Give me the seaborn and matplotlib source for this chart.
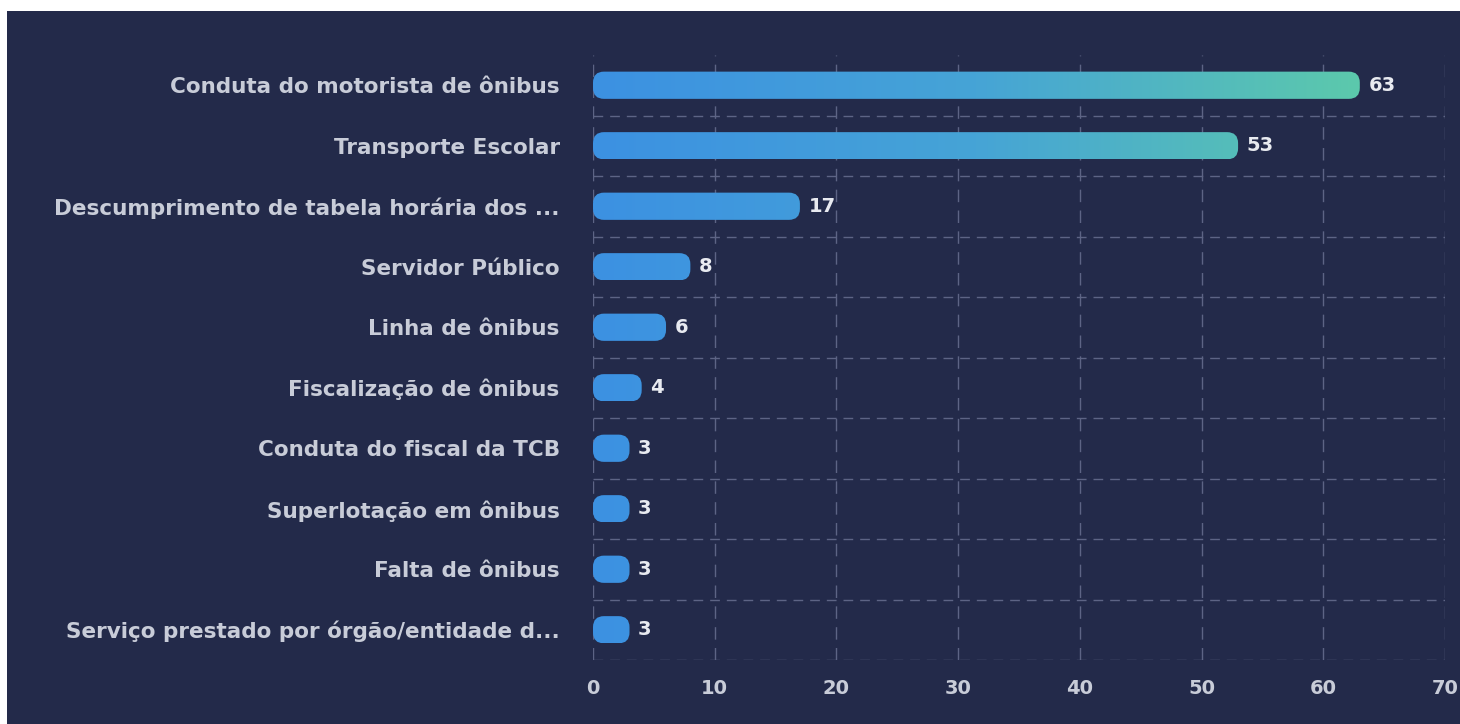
import numpy as np
import pandas as pd
import matplotlib
matplotlib.use("Agg")
import matplotlib.pyplot as plt
import seaborn as sns
from matplotlib.patches import FancyBboxPatch, Rectangle
from matplotlib.colors import LinearSegmentedColormap, Normalize

categories = [
    "Conduta do motorista de ônibus",
    "Transporte Escolar",
    "Descumprimento de tabela horária dos ...",
    "Servidor Público",
    "Linha de ônibus",
    "Fiscalização de ônibus",
    "Conduta do fiscal da TCB",
    "Superlotação em ônibus",
    "Falta de ônibus",
    "Serviço prestado por órgão/entidade d...",
]
values = [63, 53, 17, 8, 6, 4, 3, 3, 3, 3]
x_ticks = [0, 10, 20, 30, 40, 50, 60, 70]

BG = "#232a4a"
TXT = "#c8ccd8"
VAL = "#e8eaf0"
GRID = "#5d6485"

sns.set_theme(style="dark")
plt.rcParams["font.family"] = ["DejaVu Sans"]

W, H = 1460, 724
fig = plt.figure(figsize=(W / 100, H / 100), dpi=100, facecolor=BG)
# white border at top and left
fig.patches.append(Rectangle((0, 1 - 11 / H), 1, 11 / H, transform=fig.transFigure,
                             facecolor="white", edgecolor="none", zorder=0))
fig.patches.append(Rectangle((0, 0), 7 / W, 1, transform=fig.transFigure,
                             facecolor="white", edgecolor="none", zorder=0))

left, right, top, bottom = 593, 1445, 55, 660
ax = fig.add_axes([left / W, 1 - bottom / H, (right - left) / W, (bottom - top) / H])
ax.set_facecolor(BG)

df = pd.DataFrame({"cat": categories, "val": values})
sns.barplot(data=df, x="val", y="cat", orient="h", ax=ax, width=0.45,
            color="#3d92e0", saturation=1)

ax.set_xlim(0, 70)
ax.set_ylim(len(categories) - 0.5, -0.5)

# rounded gradient bars replacing the seaborn rectangles
cmap = LinearSegmentedColormap.from_list("g", ["#3c91e2", "#46a4d6", "#5cc9ac"])
norm = Normalize(0, max(values))
px_x = (right - left) / 70.0
px_y = (bottom - top) / len(categories)
aspect = px_x / px_y
rad_px = 11.0
for p in list(ax.patches):
    x0, y0 = p.get_x(), p.get_y()
    w, h = p.get_width(), p.get_height()
    p.set_visible(False)
    r = min(rad_px / px_x, w / 2)
    fb = FancyBboxPatch((x0, y0), w, h,
                        boxstyle=f"round,pad=0,rounding_size={r}",
                        mutation_aspect=aspect,
                        facecolor="none", edgecolor="none", zorder=3)
    ax.add_patch(fb)
    grad = np.linspace(x0, x0 + w, 256)[None, :]
    im = ax.imshow(cmap(norm(grad)), extent=(x0, x0 + w, y0 + h, y0),
                   aspect="auto", zorder=3, interpolation="bilinear")
    im.set_clip_path(fb)
    ax.text(x0 + w + 0.7, y0 + h / 2, f"{int(round(w))}", ha="left", va="center",
            color=VAL, fontsize=14, fontweight="bold", zorder=4)
ax.set_xlim(0, 70)
ax.set_ylim(len(categories) - 0.5, -0.5)

# grids
ax.set_xticks(x_ticks)
ax.set_xticklabels([str(t) for t in x_ticks])
ax.set_yticks(range(len(categories)))
ax.grid(False)
for t in x_ticks:
    ax.axvline(t, color=GRID, lw=1.0, ls=(0, (9, 6)), zorder=1)
for yb in np.arange(0.5, len(categories), 1.0):
    ax.axhline(yb, color=GRID, lw=1.0, ls=(0, (7, 5)), zorder=1)

for s in ax.spines.values():
    s.set_visible(False)
ax.tick_params(axis="both", length=0)
ax.tick_params(axis="y", pad=24, labelsize=15.5, labelcolor=TXT)
ax.tick_params(axis="x", pad=14, labelsize=14, labelcolor=TXT)
for lab in ax.get_yticklabels() + ax.get_xticklabels():
    lab.set_fontweight("bold")
ax.set_xlabel("")
ax.set_ylabel("")

fig.savefig("out.png", dpi=100, facecolor=BG)
